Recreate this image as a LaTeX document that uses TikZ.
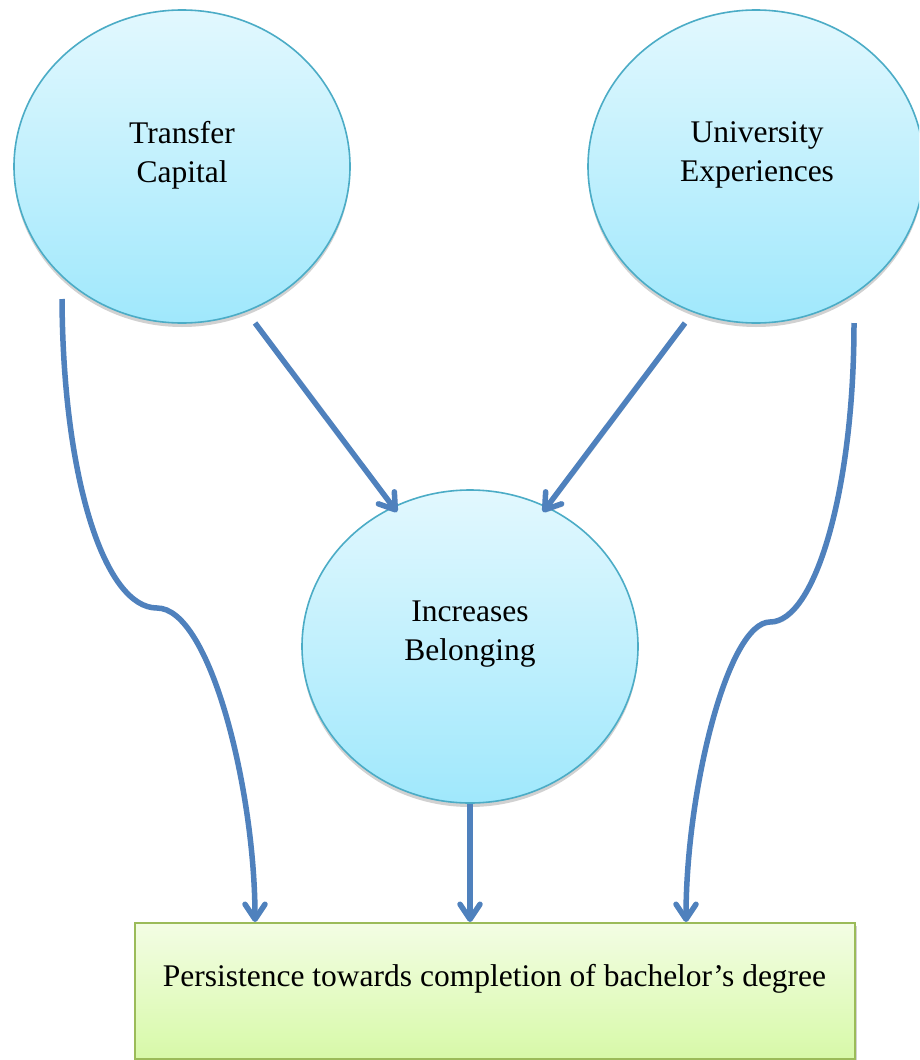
\documentclass[tikz,border=0pt]{standalone}
\usepackage{fontspec}
\setmainfont{Liberation Serif}
\usetikzlibrary{shapes.geometric,arrows.meta,shadows}
\definecolor{linkblue}{HTML}{4F81BD}
\definecolor{circtop}{RGB}{226,248,254}
\definecolor{circbot}{RGB}{160,232,252}
\definecolor{circedge}{HTML}{4BACC6}
\definecolor{boxtop}{RGB}{243,253,228}
\definecolor{boxbot}{RGB}{215,249,168}
\definecolor{boxedge}{HTML}{9BBB59}
\begin{document}
\begin{tikzpicture}[x=1pt,y=-1pt,
  bubble/.style={ellipse, minimum width=336pt, minimum height=313pt, inner sep=0pt,
    draw=circedge, line width=1.6pt, top color=circtop, bottom color=circbot,
    drop shadow={shadow xshift=0pt, shadow yshift=-4pt, opacity=0.18, fill=black}},
  goalbox/.style={rectangle, minimum width=720pt, minimum height=136pt, inner sep=0pt,
    draw=boxedge, line width=2pt, top color=boxtop, bottom color=boxbot,
    drop shadow={shadow xshift=2pt, shadow yshift=-3pt, opacity=0.18, fill=black}},
  txt/.style={font=\fontsize{31.5}{39}\selectfont, align=center, inner sep=0pt},
  conn/.style={draw=linkblue, line width=5.5pt,
    -{Straight Barb[length=15pt, width=20pt, round]},
    preaction={draw=black, opacity=0.10, transform canvas={shift={(1.5pt,-2.5pt)}}}}]
\useasboundingbox (0,0) rectangle (919,1060);
\clip (0,0) rectangle (919,1060);
\fill[white] (0,0) rectangle (919,1060);

\node[bubble] (tc) at (182,166.5) {};
\node[bubble] (ue) at (756,166.5) {};
\node[bubble] (ib) at (470,646.5) {};
\node[goalbox, anchor=north west] (goal) at (134,922) {};

\node[txt] (tctext) at (182,155) {Transfer\\Capital};
\node[txt] (uetext) at (757,155) {University\\Experiences};
\node[txt] (ibtext) at (470,634) {Increases\\Belonging};
\node[txt, anchor=base] (goaltext) at (494.5,986) {Persistence towards completion of bachelor’s degree};

\coordinate (lstart) at (62,299);
\coordinate (lkink) at (157,608);
\coordinate (rstart) at (854,323);
\coordinate (rkink) at (770,622);
\coordinate (dlstart) at (255,323);
\coordinate (drstart) at (685,323);
\coordinate (dltip) at (397,512);
\coordinate (drtip) at (543,512);

\draw[conn] (dlstart) -- (dltip);
\draw[conn] (drstart) -- (drtip);
\draw[conn] (ib.south) -- (goal.north -| ib.south);
\draw[conn] (lstart) .. controls (63,480) and (105,608) .. (lkink)
  .. controls (210,608) and (255,790) .. (goal.north -| 255,0);
\draw[conn] (rstart) .. controls (854,490) and (815,622) .. (rkink)
  .. controls (728,622) and (686,790) .. (goal.north -| 686,0);
\end{tikzpicture}
\end{document}
